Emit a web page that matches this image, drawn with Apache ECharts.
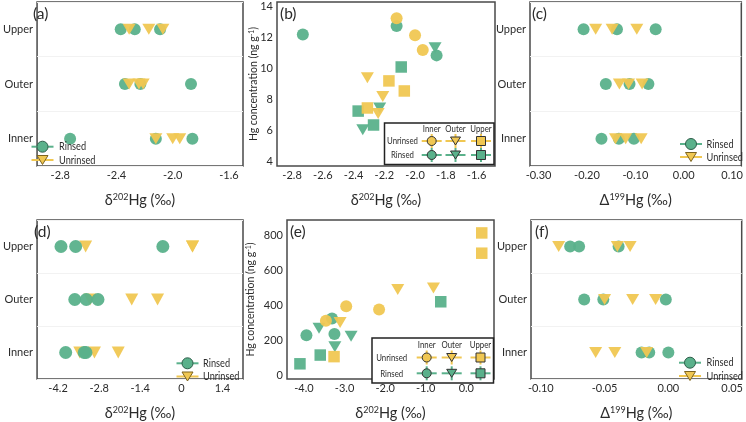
<!DOCTYPE html>
<html><head><meta charset="utf-8">
<script src="https://cdn.jsdelivr.net/npm/echarts@6/dist/echarts.min.js"></script>
<style>html,body{margin:0;padding:0;background:#fff}#c{width:746px;height:422px}</style>
</head><body><div id="c"></div>
<script>
// ---------- categories ----------
const positions = ['Inner', 'Outer', 'Upper'];

// ---------- top row: panels (a) & (b) : δ202Hg (‰) and Hg (ng/g) ----------
const d202RinsedInner   = [-2.73, -2.12, -1.86];
const d202UnrinsedInner = [-2.12, -2.00, -1.95];
const d202RinsedOuter   = [-2.34, -2.23, -1.87];
const d202UnrinsedOuter = [-2.31, -2.24, -2.21];
const d202RinsedUpper   = [-2.37, -2.27, -2.09];
const d202UnrinsedUpper = [-2.31, -2.17, -2.07];
const hgRinsedInner   = [12.2, 12.75, 10.85];
const hgUnrinsedInner = [13.25, 12.15, 11.2];
const hgRinsedOuter   = [6.05, 7.45, 11.35];
const hgUnrinsedOuter = [9.4, 7.1, 8.2];
const hgRinsedUpper   = [7.25, 6.35, 10.1];
const hgUnrinsedUpper = [7.45, 9.2, 8.55];

// ---------- top row: panel (c) : Δ199Hg (‰) ----------
const D199RinsedInner   = [-0.170, -0.134, -0.103];
const D199UnrinsedInner = [-0.141, -0.120, -0.088];
const D199RinsedOuter   = [-0.161, -0.112, -0.073];
const D199UnrinsedOuter = [-0.133, -0.114, -0.086];
const D199RinsedUpper   = [-0.207, -0.138, -0.058];
const D199UnrinsedUpper = [-0.182, -0.148, -0.097];

// ---------- bottom row: panels (d) & (e) ----------
const d202bRinsedInner   = [-3.94, -3.31, -3.25];
const d202bUnrinsedInner = [-3.46, -2.96, -2.15];
const d202bRinsedOuter   = [-3.63, -3.24, -2.84];
const d202bUnrinsedOuter = [-3.11, -1.69, -0.81];
const d202bRinsedUpper   = [-4.10, -3.60, -0.63];
const d202bUnrinsedUpper = [-3.26, 0.38, 0.38];
const hgbRinsedInner   = [230, 326, 237];
const hgbUnrinsedInner = [313, 396, 378];
const hgbRinsedOuter   = [270, 165, 224];
const hgbUnrinsedOuter = [303, 492, 501];
const hgbRinsedUpper   = [67, 117, 422];
const hgbUnrinsedUpper = [108, 816, 700];

// ---------- bottom row: panel (f) ----------
const D199bRinsedInner   = [-0.021, -0.015, 0.000];
const D199bUnrinsedInner = [-0.057, -0.042, -0.017];
const D199bRinsedOuter   = [-0.066, -0.051, -0.002];
const D199bUnrinsedOuter = [-0.050, -0.028, -0.010];
const D199bRinsedUpper   = [-0.077, -0.070, -0.039];
const D199bUnrinsedUpper = [-0.086, -0.040, -0.030];

// ---------- tick values / labels ----------
const ticksA = [-2.8, -2.4, -2.0, -1.6];       const labelsA = ['-2.8', '-2.4', '-2.0', '-1.6'];
const ticksB = [-2.8, -2.6, -2.4, -2.2, -2.0, -1.8, -1.6]; const labelsB = ['-2.8', '-2.6', '-2.4', '-2.2', '-2.0', '-1.8', '-1.6'];
const ticksBy = [4, 6, 8, 10, 12, 14];          const labelsBy = ['4', '6', '8', '10', '12', '14'];
const ticksC = [-0.3, -0.2, -0.1, 0, 0.1];      const labelsC = ['-0.30', '-0.20', '-0.10', '0.00', '0.10'];
const ticksD = [-4.2, -2.8, -1.4, 0, 1.4];      const labelsD = ['-4.2', '-2.8', '-1.4', '0', '1.4'];
const ticksE = [-4, -3, -2, -1, 0];             const labelsE = ['-4.0', '-3.0', '-2.0', '-1.0', '0.0'];
const ticksEy = [0, 200, 400, 600, 800];        const labelsEy = ['0', '200', '400', '600', '800'];
const ticksF = [-0.1, -0.05, 0, 0.05];          const labelsF = ['-0.10', '-0.05', '0.00', '0.05'];

// ---------- styles ----------
const GREEN = '#5ab18b', YELLOW = '#f0c752';
const FONT = 'Lato, "Open Sans", sans-serif';
const TXT = '#2b2b2b';

function fmt(ticks, labels) {
  return v => { let best = 0; ticks.forEach((t, i) => { if (Math.abs(t - v) < Math.abs(ticks[best] - v)) best = i; }); return labels[best]; };
}
const grids = [
  { left: 30, top: 2, width: 213, height: 164 },
  { left: 277, top: 2, width: 218, height: 164 },
  { left: 530, top: 2, width: 214, height: 164 },
  { left: 30, top: 220, width: 213, height: 164 },
  { left: 287, top: 220, width: 207, height: 164 },
  { left: 531, top: 220, width: 214, height: 164 }
].map(g => Object.assign({ show: true, borderColor: '#4a4a4a', borderWidth: 1.5, backgroundColor: '#fff' }, g));

const richName = {
  m: { fontSize: 14.5, fontFamily: FONT, color: TXT },
  s: { fontSize: 9, fontFamily: FONT, color: TXT, verticalAlign: 'top' }
};
function xAxis(gi, min, max, ticks, labels, name) {
  return {
    type: 'value', gridIndex: gi, min, max,
    axisLine: { show: false }, axisTick: { show: false }, splitLine: { show: false },
    axisLabel: { customValues: ticks, formatter: fmt(ticks, labels), fontSize: 11, color: TXT, margin: 4, fontFamily: FONT },
    name, nameLocation: 'middle', nameGap: 27, nameMoveOverlap: false, nameTextStyle: { rich: richName }
  };
}
function yCat(gi) {
  return {
    type: 'category', gridIndex: gi, data: positions, boundaryGap: true,
    axisLine: { show: false }, axisTick: { show: false },
    splitLine: { show: true, lineStyle: { color: '#f2f2f2', width: 1 } },
    axisLabel: { fontSize: 11, color: TXT, margin: 4, fontFamily: FONT }
  };
}
function yVal(gi, min, max, ticks, labels, gap) {
  return {
    type: 'value', gridIndex: gi, min, max,
    axisLine: { show: false }, axisTick: { show: false }, splitLine: { show: false },
    axisLabel: { customValues: ticks, formatter: fmt(ticks, labels), fontSize: 11, color: TXT, margin: 4, fontFamily: FONT },
    name: '{m|Hg concentration (ng g}{s|-1}{m|)}', nameLocation: 'middle', nameRotate: 90, nameGap: gap, nameMoveOverlap: false,
    nameTextStyle: { rich: {
      m: { fontSize: 10.5, fontFamily: FONT, color: TXT },
      s: { fontSize: 7, fontFamily: FONT, color: TXT, verticalAlign: 'top' } } }
  };
}

const d202Name = '{m|δ}{s|202}{m|Hg (‰)}';
const D199Name = '{m|Δ}{s|199}{m|Hg (‰)}';

const xAxes = [
  xAxis(0, -2.965, -1.5, ticksA, labelsA, d202Name),
  xAxis(1, -2.898, -1.48, ticksB, labelsB, d202Name),
  xAxis(2, -0.3177, 0.119, ticksC, labelsC, D199Name),
  xAxis(3, -4.915, 2.101, ticksD, labelsD, d202Name),
  xAxis(4, -4.419, 0.682, ticksE, labelsE, d202Name),
  xAxis(5, -0.1077, 0.0575, ticksF, labelsF, D199Name)
];
const yAxes = [yCat(0), yVal(1, 3.7, 14.3, ticksBy, labelsBy, 18), yCat(2), yCat(3), yVal(4, -20, 890, ticksEy, labelsEy, 31), yCat(5)];

const cat = (xs, c) => xs.map(x => [x, c]);
const pair = (xs, ys) => xs.map((x, i) => [x, ys[i]]);
const TRI = 'triangle';
function sc(idx, data, symbol, color, size, rotate) {
  return {
    type: 'scatter', xAxisIndex: idx, yAxisIndex: idx, data, symbol, symbolSize: size,
    symbolRotate: rotate || 0, silent: true,
    itemStyle: { color, opacity: 0.95 }
  };
}
function rowSeries(idx, rI, rO, rU, uI, uO, uU, circ, tri, rinsedOnTop) {
  const r = sc(idx, [...cat(rI, 'Inner'), ...cat(rO, 'Outer'), ...cat(rU, 'Upper')], 'circle', GREEN, circ);
  const u = sc(idx, [...cat(uI, 'Inner'), ...cat(uO, 'Outer'), ...cat(uU, 'Upper')], TRI, YELLOW, tri, 180);
  return rinsedOnTop ? [u, r] : [r, u];
}
function scatterSeries(idx, xs, ys, sz) {
  // xs/ys: [rI,uI,rO,uO,rU,uU]
  return [
    sc(idx, pair(xs[0], ys[0]), 'circle', GREEN, sz),
    sc(idx, pair(xs[2], ys[2]), TRI, GREEN, [13, 11], 180),
    sc(idx, pair(xs[4], ys[4]), 'rect', GREEN, sz - 0.5),
    sc(idx, pair(xs[1], ys[1]), 'circle', YELLOW, sz),
    sc(idx, pair(xs[3], ys[3]), TRI, YELLOW, [13, 11], 180),
    sc(idx, pair(xs[5], ys[5]), 'rect', YELLOW, sz - 0.5)
  ];
}

const series = [
  ...rowSeries(0, d202RinsedInner, d202RinsedOuter, d202RinsedUpper, d202UnrinsedInner, d202UnrinsedOuter, d202UnrinsedUpper, 12, [13, 11], false),
  ...scatterSeries(1,
    [d202RinsedInner, d202UnrinsedInner, d202RinsedOuter, d202UnrinsedOuter, d202RinsedUpper, d202UnrinsedUpper],
    [hgRinsedInner, hgUnrinsedInner, hgRinsedOuter, hgUnrinsedOuter, hgRinsedUpper, hgUnrinsedUpper], 12),
  ...rowSeries(2, D199RinsedInner, D199RinsedOuter, D199RinsedUpper, D199UnrinsedInner, D199UnrinsedOuter, D199UnrinsedUpper, 12, [13, 11], false),
  ...rowSeries(3, d202bRinsedInner, d202bRinsedOuter, d202bRinsedUpper, d202bUnrinsedInner, d202bUnrinsedOuter, d202bUnrinsedUpper, 13, [13, 12], true),
  ...scatterSeries(4,
    [d202bRinsedInner, d202bUnrinsedInner, d202bRinsedOuter, d202bUnrinsedOuter, d202bRinsedUpper, d202bUnrinsedUpper],
    [hgbRinsedInner, hgbUnrinsedInner, hgbRinsedOuter, hgbUnrinsedOuter, hgbRinsedUpper, hgbUnrinsedUpper], 12),
  ...rowSeries(5, D199bRinsedInner, D199bRinsedOuter, D199bRinsedUpper, D199bUnrinsedInner, D199bUnrinsedOuter, D199bUnrinsedUpper, 12, [13, 11], false)
];

// ---------- graphic: panel letters & legends ----------
const G = [];
function text(x, y, t, size, opts) {
  G.push(Object.assign({ type: 'text', x, y, z: 100, silent: true,
    style: { text: t, fontSize: size, fontFamily: FONT, fill: TXT, align: 'left', verticalAlign: 'middle' } }, opts || {}));
}
[['(a)', 33, 14], ['(b)', 280, 14], ['(c)', 532, 14], ['(d)', 34, 232], ['(e)', 290, 232], ['(f)', 535, 232]]
  .forEach(([t, x, y]) => text(x, y, t, 15.5));

function triPts(cx, cy, w, h) { return [[cx - w / 2, cy - h / 2], [cx + w / 2, cy - h / 2], [cx, cy + h / 2]]; }
function simpleLegend(cx, y1, y2, tx) {
  G.push({ type: 'line', z: 100, silent: true, shape: { x1: cx - 11, y1, x2: cx + 11, y2: y1 }, style: { stroke: GREEN, lineWidth: 2 } });
  G.push({ type: 'circle', z: 101, silent: true, shape: { cx, cy: y1, r: 5.5 }, style: { fill: GREEN, stroke: '#2e5e4a', lineWidth: 1 } });
  G.push({ type: 'line', z: 100, silent: true, shape: { x1: cx - 11, y1: y2, x2: cx + 11, y2 }, style: { stroke: YELLOW, lineWidth: 2 } });
  G.push({ type: 'polygon', z: 101, silent: true, shape: { points: triPts(cx, y2, 11, 9) }, style: { fill: YELLOW, stroke: '#7d6420', lineWidth: 1 } });
  text(tx, y1, 'Rinsed', 11.5, { scaleX: 0.8 });
  text(tx, y2, 'Unrinsed', 11.5, { scaleX: 0.8 });
}
simpleLegend(42.5, 146.7, 160, 59);
simpleLegend(691, 144, 157, 706.5);
simpleLegend(187.5, 363.3, 376.5, 203);
simpleLegend(690, 362.7, 376, 706.5);

function legMarker(kind, cx, cy, color) {
  G.push({ type: 'line', z: 100, silent: true, shape: { x1: cx - 10, y1: cy, x2: cx + 10, y2: cy }, style: { stroke: color, lineWidth: 2 } });
  G.push({ type: 'line', z: 100, silent: true, shape: { x1: cx, y1: cy - 7, x2: cx, y2: cy + 7 }, style: { stroke: color, lineWidth: 2 } });
  const st = { fill: color, stroke: '#333', lineWidth: 1 };
  if (kind === 'circle') G.push({ type: 'circle', z: 101, silent: true, shape: { cx, cy, r: 4.5 }, style: st });
  else if (kind === 'tri') G.push({ type: 'polygon', z: 101, silent: true, shape: { points: triPts(cx, cy, 10, 8) }, style: st });
  else G.push({ type: 'rect', z: 101, silent: true, shape: { x: cx - 4.5, y: cy - 4.5, width: 9, height: 9 }, style: st });
}
function tableLegend(bx, by, bw, bh, hy, r1, r2, tx, cols) {
  G.push({ type: 'rect', z: 99, silent: true, shape: { x: bx, y: by, width: bw, height: bh }, style: { fill: '#fff', stroke: '#222', lineWidth: 1.5 } });
  const cs = t => ({ text: t, fontSize: 10, fontFamily: FONT, fill: TXT, align: 'center', verticalAlign: 'middle' });
  ['Inner', 'Outer', 'Upper'].forEach((h, i) => text(cols[i], hy, h, 10, { scaleX: 0.78, style: cs(h) }));
  text(tx, r1, 'Unrinsed', 10, { scaleX: 0.78, style: cs('Unrinsed') });
  text(tx, r2, 'Rinsed', 10, { scaleX: 0.78, style: cs('Rinsed') });
  ['circle', 'tri', 'rect'].forEach((k, i) => { legMarker(k, cols[i], r1, YELLOW); legMarker(k, cols[i], r2, GREEN); });
}
tableLegend(384.5, 123, 109.5, 41.5, 129, 141, 155, 402.5, [431.7, 455.5, 481]);
tableLegend(372, 338, 121.5, 45, 344.5, 357.5, 373.3, 391.7, [426.7, 451.7, 480.5]);

const chart = echarts.init(document.getElementById('c'), null, { renderer: 'canvas' });
chart.setOption({
  animation: false,
  backgroundColor: '#fff',
  textStyle: { fontFamily: FONT },
  grid: grids, xAxis: xAxes, yAxis: yAxes, series, graphic: G
});
</script></body></html>
